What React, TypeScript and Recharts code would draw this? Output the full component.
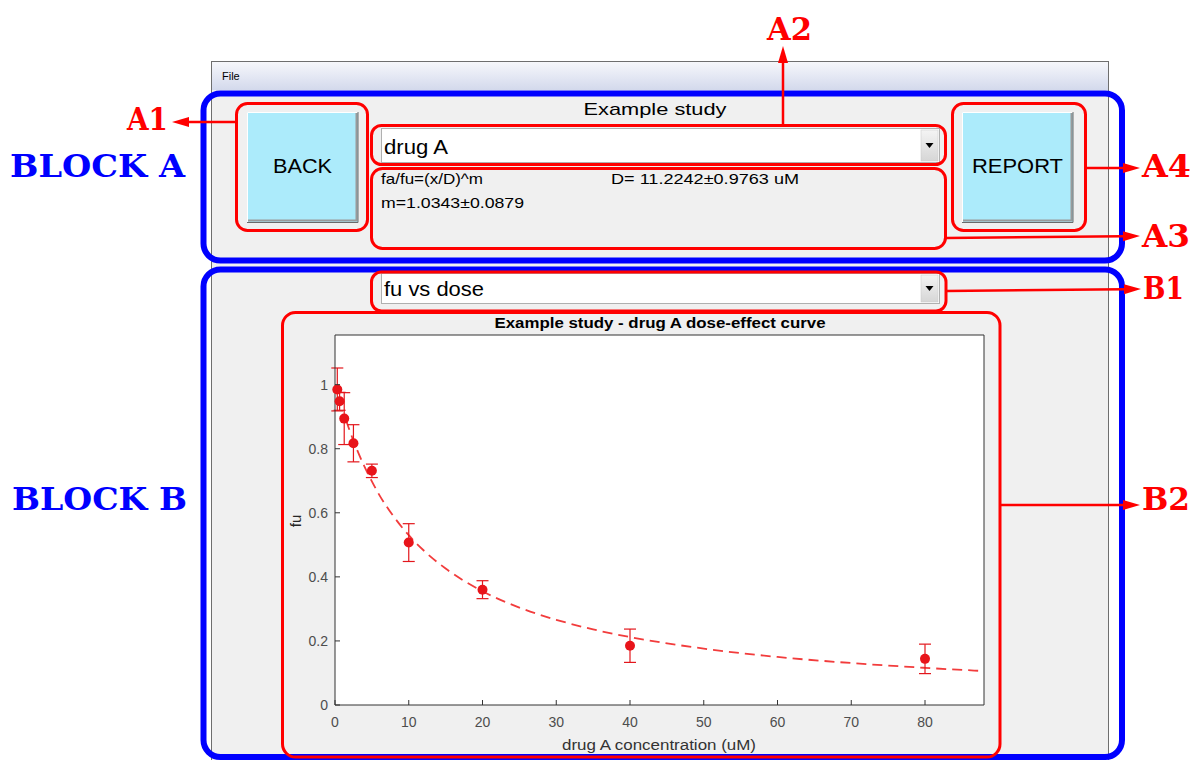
import React from 'react'
import { CartesianGrid, ComposedChart, ErrorBar, Line, Scatter, XAxis, YAxis } from 'recharts'

// measured fu (mean ± error) per dose of drug A
const doses = [0.3125, 0.625, 1.25, 2.5, 5, 10, 20, 40, 80]
const fuMean = [0.985, 0.948, 0.894, 0.817, 0.731, 0.507, 0.36, 0.185, 0.144]
const fuErr = [0.067, 0.028, 0.081, 0.058, 0.021, 0.059, 0.028, 0.052, 0.046]

// dashed fitted curve
const fitDoses = [1.5, 2, 3, 4, 5, 6, 8, 10, 12, 15, 20, 25, 30, 35, 40, 50, 60, 70, 80, 88]
const fitFu = [0.889, 0.856, 0.796, 0.744, 0.698, 0.656, 0.587, 0.53, 0.483, 0.426, 0.355, 0.304, 0.266, 0.236, 0.212, 0.176, 0.15, 0.131, 0.116, 0.106]

const xTicks = [0, 10, 20, 30, 40, 50, 60, 70, 80]
const yTicks = [0, 0.2, 0.4, 0.6, 0.8, 1]

const points = doses.map((d, i) => ({ dose: d, fu: fuMean[i], err: fuErr[i] }))
const fit = fitDoses.map((d, i) => ({ dose: d, fu: fitFu[i] }))

const UI = '"Liberation Sans", Arial, sans-serif'
const SERIF = '"DejaVu Serif", serif'
const AXIS = '#333'
const TICK_TXT = '#4d4d4d'
const RED = '#ff0000'
const BLUE = '#0000ff'

// MATLAB style ticks: drawn inward from the box
const BottomTick = ({ x, y, payload }: any) => (
    <g>
        <line x1={x} x2={x} y1={y} y2={y - 5} stroke={AXIS} />
        <text x={x} y={y + 22} textAnchor="middle" fill={TICK_TXT} fontSize={14} fontFamily={UI}>
            {payload.value}
        </text>
    </g>
)
const TopTick = ({ x, y }: any) => <line x1={x} x2={x} y1={y} y2={y + 5} stroke={AXIS} />
const LeftTick = ({ x, y, payload }: any) => (
    <g>
        <line x1={x} x2={x + 5} y1={y} y2={y} stroke={AXIS} />
        <text x={x - 7} y={y + 5} textAnchor="end" fill={TICK_TXT} fontSize={14} fontFamily={UI}>
            {payload.value}
        </text>
    </g>
)
const RightTick = ({ x, y }: any) => <line x1={x} x2={x - 5} y1={y} y2={y} stroke={AXIS} />

const Marker = (p: any) => <circle cx={p.cx} cy={p.cy} r={5} fill="#e8141a" />

const Button = ({ x, y, label, len }: { x: number; y: number; label: string; len: number }) => (
    <g>
        <rect x={x} y={y} width={111} height={110} fill="#acebfb" />
        <path d={`M${x + 0.5} ${y + 110} V${y + 0.5} H${x + 111}`} stroke="#fff" fill="none" />
        <path d={`M${x + 109.5} ${y + 1} V${y + 108.5} H${x + 1}`} stroke="#9a9a9a" strokeWidth={2} fill="none" />
        <path d={`M${x + 111} ${y} V${y + 110.5} H${x}`} stroke="#6a6a6a" fill="none" />
        <text x={x + 55.5} y={y + 61} textAnchor="middle" fontSize={21} fontFamily={UI} textLength={len} lengthAdjust="spacingAndGlyphs">
            {label}
        </text>
    </g>
)

const Dropdown = ({ y, h, label, len, base }: { y: number; h: number; label: string; len: number; base: number }) => (
    <g>
        <rect x={381.5} y={y + 0.5} width={558} height={h} fill="#fff" stroke="#b0b0b0" />
        <rect x={921} y={y + 2} width={17} height={h - 3} fill="url(#ddBtn)" stroke="#c8c8c8" strokeWidth={0.5} />
        <path d={`M${925.5} ${y + h / 2 - 2} h8 l-4 5 z`} fill="#000" />
        <text x={384} y={base} fontSize={20} fontFamily={UI} textLength={len} lengthAdjust="spacingAndGlyphs">
            {label}
        </text>
    </g>
)

const Arrow = ({ x1, y1, x2, y2 }: { x1: number; y1: number; x2: number; y2: number }) => {
    const dx = x2 - x1
    const dy = y2 - y1
    const l = Math.hypot(dx, dy)
    const ux = dx / l
    const uy = dy / l
    const bx = x2 - ux * 17
    const by = y2 - uy * 17
    return (
        <g>
            <line x1={x1} y1={y1} x2={bx} y2={by} stroke={RED} strokeWidth={2.5} />
            <polygon
                points={`${x2},${y2} ${bx - uy * 5},${by + ux * 5} ${bx + uy * 5},${by - ux * 5}`}
                fill={RED}
            />
        </g>
    )
}

const Tag = ({ x, y, text, len, color = RED }: { x: number; y: number; text: string; len: number; color?: string }) => (
    <text x={x} y={y} fill={color} fontSize={32} fontWeight="bold" fontFamily={SERIF} textLength={len} lengthAdjust="spacingAndGlyphs">
        {text}
    </text>
)

export default function App() {
    return (
        <div style={{ position: 'absolute', left: 0, top: 0, width: 1196, height: 760, overflow: 'hidden', background: '#fff' }}>
            {/* window and controls */}
            <svg width={1196} height={760} style={{ position: 'absolute', left: 0, top: 0 }}>
                <defs>
                    <linearGradient id="menu" x1="0" y1="0" x2="0" y2="1">
                        <stop offset="0" stopColor="#f6f7fb" />
                        <stop offset="1" stopColor="#d3d9ec" />
                    </linearGradient>
                    <linearGradient id="ddBtn" x1="0" y1="0" x2="0" y2="1">
                        <stop offset="0" stopColor="#f4f4f4" />
                        <stop offset="1" stopColor="#d6d6d6" />
                    </linearGradient>
                </defs>
                <rect x={211.5} y={61.5} width={897} height={720} fill="#f0f0f0" stroke="#6e6e6e" />
                <rect x={212} y={62} width={896} height={28} fill="url(#menu)" />
                <text x={222} y={80} fontSize={11} fontFamily={UI}>File</text>

                <text x={655} y={115} textAnchor="middle" fontSize={17} fontFamily={UI} textLength={143} lengthAdjust="spacingAndGlyphs">
                    Example study
                </text>
                <Button x={247} y={112} label="BACK" len={59} />
                <Button x={962} y={112} label="REPORT" len={91} />
                <Dropdown y={128} h={34} label="drug A" len={64} base={154} />
                <text x={381} y={184} fontSize={15} fontFamily={UI} textLength={102} lengthAdjust="spacingAndGlyphs">fa/fu=(x/D)^m</text>
                <text x={611} y={184} fontSize={15} fontFamily={UI} textLength={188} lengthAdjust="spacingAndGlyphs">D= 11.2242±0.9763 uM</text>
                <text x={381} y={208} fontSize={15} fontFamily={UI} textLength={143} lengthAdjust="spacingAndGlyphs">m=1.0343±0.0879</text>

                <Dropdown y={273} h={30} label="fu vs dose" len={100} base={296} />

                <text x={660} y={328} textAnchor="middle" fontSize={14} fontWeight="bold" fontFamily={UI} textLength={331} lengthAdjust="spacingAndGlyphs">
                    Example study - drug A dose-effect curve
                </text>
                <text x={659} y={750} textAnchor="middle" fontSize={14} fill="#333" fontFamily={UI} textLength={194} lengthAdjust="spacingAndGlyphs">
                    drug A concentration (uM)
                </text>
                <text x={301} y={521} textAnchor="middle" fontSize={15} fill="#262626" fontFamily={UI} transform="rotate(-90 301 521)">
                    fu
                </text>
            </svg>

            <div style={{ position: 'absolute', left: 282, top: 312 }}>
                <ComposedChart width={718} height={446} margin={{ top: 22, right: 15, bottom: 23, left: 13 }}>
                    <CartesianGrid horizontal={false} vertical={false} fill="#fff" />
                    <XAxis dataKey="dose" type="number" domain={[0, 88]} ticks={xTicks} height={30} tickSize={0} tickMargin={0} tickLine={false} axisLine={{ stroke: AXIS }} tick={(p: any) => <BottomTick {...p} />} />
                    <XAxis xAxisId="top" orientation="top" dataKey="dose" type="number" domain={[0, 88]} ticks={xTicks} height={1} tickSize={0} tickMargin={0} tickLine={false} axisLine={{ stroke: AXIS }} tick={(p: any) => <TopTick {...p} />} />
                    <YAxis dataKey="fu" type="number" domain={[0, 1.155]} ticks={yTicks} width={40} tickSize={0} tickMargin={0} tickLine={false} axisLine={{ stroke: AXIS }} tick={(p: any) => <LeftTick {...p} />} />
                    <YAxis yAxisId="right" orientation="right" dataKey="fu" type="number" domain={[0, 1.155]} ticks={yTicks} width={1} tickSize={0} tickMargin={0} tickLine={false} axisLine={{ stroke: AXIS }} tick={(p: any) => <RightTick {...p} />} />
                    <Line data={fit} dataKey="fu" type="monotone" stroke="#f23c3c" strokeWidth={1.8} strokeDasharray="10 6" dot={false} activeDot={false} isAnimationActive={false} />
                    <Scatter data={points} dataKey="fu" fill="#e8141a" shape={Marker} isAnimationActive={false}>
                        <ErrorBar dataKey="err" direction="y" width={6} stroke="#e3161c" strokeWidth={1.2} />
                    </Scatter>
                </ComposedChart>
            </div>

            {/* annotations */}
            <svg width={1196} height={760} style={{ position: 'absolute', left: 0, top: 0, pointerEvents: 'none' }}>
                <rect x={203.5} y={93.5} width={918.5} height={167} rx={17} fill="none" stroke={BLUE} strokeWidth={6} />
                <rect x={203.5} y={269.5} width={918.5} height={487.5} rx={17} fill="none" stroke={BLUE} strokeWidth={6} />

                <rect x={236.5} y={103.5} width={131} height={127} rx={11} fill="none" stroke={RED} strokeWidth={3} />
                <rect x={952.5} y={103.5} width={133} height={127} rx={11} fill="none" stroke={RED} strokeWidth={3} />
                <rect x={371.5} y={125.5} width={574} height={39} rx={10} fill="none" stroke={RED} strokeWidth={3} />
                <rect x={371.5} y={168.5} width={574} height={80} rx={11} fill="none" stroke={RED} strokeWidth={3} />
                <rect x={371.5} y={272} width={574.5} height={39} rx={10} fill="none" stroke={RED} strokeWidth={3} />
                <rect x={282.5} y={312.5} width={717.5} height={444.5} rx={13} fill="none" stroke={RED} strokeWidth={3} />

                <Arrow x1={236} y1={122} x2={172} y2={122} />
                <Arrow x1={783} y1={125} x2={783} y2={46} />
                <Arrow x1={1086} y1={168} x2={1140} y2={168} />
                <Arrow x1={946} y1={238} x2={1140} y2={236} />
                <Arrow x1={946} y1={291} x2={1141} y2={289} />
                <Arrow x1={1000} y1={505} x2={1140} y2={505} />

                <Tag x={127} y={130} text="A1" len={41} />
                <Tag x={767} y={40} text="A2" len={45} />
                <Tag x={1142} y={177} text="A4" len={49} />
                <Tag x={1142} y={247} text="A3" len={48} />
                <Tag x={1143} y={299} text="B1" len={41} />
                <Tag x={1142} y={510} text="B2" len={48} />
                <Tag x={10} y={177} text="BLOCK A" len={175} color={BLUE} />
                <Tag x={12} y={510} text="BLOCK B" len={175} color={BLUE} />
            </svg>
        </div>
    )
}
